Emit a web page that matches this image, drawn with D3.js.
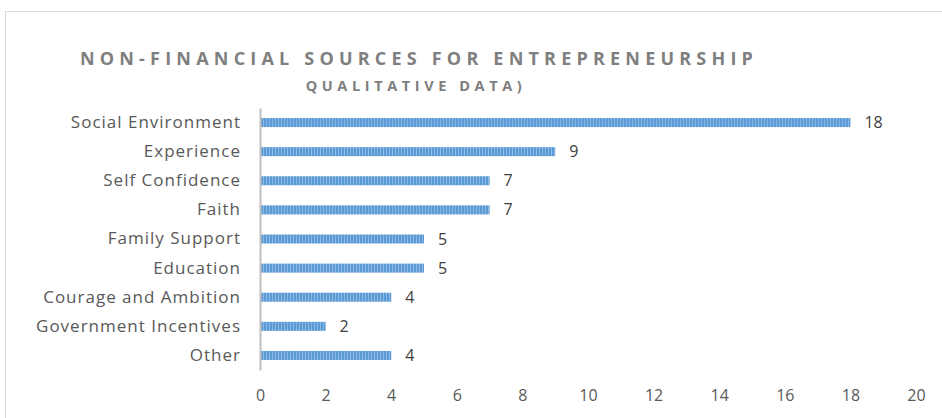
<!DOCTYPE html>
<html>
<head>
<meta charset="utf-8">
<script src="https://cdn.jsdelivr.net/npm/d3@7"></script>
<style>
  body { margin: 0; background: #fff; }
  text { font-family: "Open Sans", sans-serif; }
</style>
</head>
<body>
<div id="chart"></div>
<script>
const categories = ['Social Environment', 'Experience', 'Self Confidence', 'Faith', 'Family Support',
  'Education', 'Courage and Ambition', 'Government Incentives', 'Other'];
const counts = [18, 9, 7, 7, 5, 5, 4, 2, 4];
const xTicks = [0, 2, 4, 6, 8, 10, 12, 14, 16, 18, 20];

const W = 942, H = 418;
const margin = { top: 108, right: 26, bottom: 48, left: 260 };

const svg = d3.select('#chart').append('svg')
  .attr('width', W)
  .attr('height', H);

// striped fill like the original
const defs = svg.append('defs');
const pat = defs.append('pattern')
  .attr('id', 'stripes')
  .attr('patternUnits', 'userSpaceOnUse')
  .attr('width', 3)
  .attr('height', 10);
pat.append('rect').attr('width', 3).attr('height', 10).attr('fill', '#8db8e4');
pat.append('rect').attr('width', 2).attr('height', 10).attr('fill', '#5b9bd5');

// chart area border
svg.append('rect')
  .attr('x', 5.5)
  .attr('y', 11.5)
  .attr('width', W + 10)
  .attr('height', H + 10)
  .attr('fill', '#fff')
  .attr('stroke', '#d9d9d9')
  .attr('stroke-width', 1);

const x = d3.scaleLinear()
  .domain([0, 20])
  .range([margin.left, W - margin.right]);

const y = d3.scaleBand()
  .domain(categories)
  .range([margin.top, H - margin.bottom])
  .paddingInner(0.69)
  .paddingOuter(0.345);

// title
svg.append('text')
  .attr('x', 419)
  .attr('y', 65)
  .attr('text-anchor', 'middle')
  .attr('fill', '#7f7f7f')
  .style('font-size', '18px')
  .style('font-weight', 'bold')
  .style('letter-spacing', '5.2px')
  .text('NON-FINANCIAL SOURCES  FOR ENTREPRENEURSHIP');

svg.append('text')
  .attr('x', 416)
  .attr('y', 91)
  .attr('text-anchor', 'middle')
  .attr('fill', '#7f7f7f')
  .style('font-size', '14.5px')
  .style('font-weight', 'bold')
  .style('letter-spacing', '4.6px')
  .text('QUALITATIVE DATA)');

// bars
svg.selectAll('.bar')
  .data(categories)
  .enter()
  .append('rect')
  .attr('class', 'bar')
  .attr('x', x(0))
  .attr('y', d => y(d))
  .attr('width', (d, i) => x(counts[i]) - x(0))
  .attr('height', y.bandwidth())
  .attr('fill', 'url(#stripes)');

// value labels
svg.selectAll('.val')
  .data(categories)
  .enter()
  .append('text')
  .attr('class', 'val')
  .attr('x', (d, i) => x(counts[i]) + 14)
  .attr('y', d => y(d) + y.bandwidth() / 2)
  .attr('dy', '0.35em')
  .attr('fill', '#404040')
  .style('font-size', '16px')
  .text((d, i) => counts[i]);

// category axis
const yAxis = svg.append('g')
  .attr('transform', `translate(${x(0)},0)`)
  .call(d3.axisLeft(y).tickSize(0).tickPadding(19));
yAxis.select('.domain')
  .attr('stroke', '#bfbfbf')
  .attr('stroke-width', 2);
yAxis.selectAll('text')
  .attr('fill', '#595959')
  .style('font-size', '17px')
  .style('letter-spacing', '1px')
  .style('font-family', '"Open Sans", sans-serif');

// value axis (labels only)
const xAxis = svg.append('g')
  .attr('transform', `translate(0,${H - margin.bottom})`)
  .call(d3.axisBottom(x).tickValues(xTicks).tickSize(0).tickPadding(20));
xAxis.select('.domain').remove();
xAxis.selectAll('text')
  .attr('fill', '#595959')
  .style('font-size', '16px')
  .style('font-family', '"Open Sans", sans-serif');
</script>
</body>
</html>
